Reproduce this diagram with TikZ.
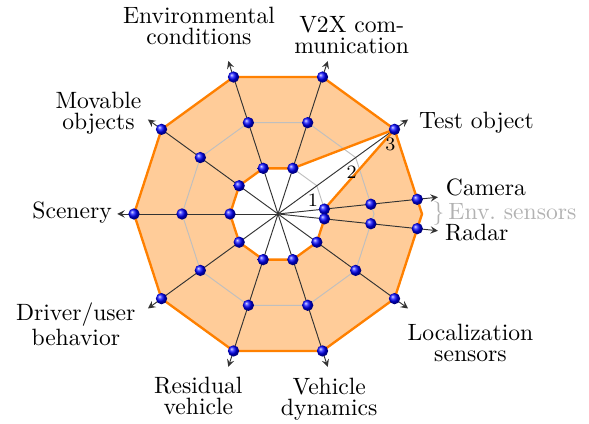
\documentclass[tikz,border=0pt]{standalone}
\usepackage{tikz}
\usetikzlibrary{positioning}

\begin{document}
\begin{tikzpicture}[x=0.715cm, y=0.715cm,
    dot/.style = {circle, inner sep=0pt, minimum size=4.8pt, ball color=blue},
    axis/.style = {black!80, thin, -stealth},
    ring/.style = {black!25, thin},
    area/.style = {orange, line width=1pt, line join=round},
    lbl/.style = {align=center, font=\linespread{0.75}\selectfont},
    tick/.style = {font=\footnotesize, xshift=-1.7pt}]
\useasboundingbox (-5.792,-4.375) rectangle (6.479,4.458);
% Define points
\coordinate (o) at (0,0);
\coordinate (cam1) at (6:0.972);
\coordinate (cam2) at (6:1.945);
\coordinate (cam3) at (6:2.917);
\coordinate (rad1) at (-6:0.972);
\coordinate (rad2) at (-6:1.945);
\coordinate (rad3) at (-6:2.917);
\coordinate (test1) at (36:1);
\coordinate (test2) at (36:2);
\coordinate (test3) at (36:3);
% Axis ends
\coordinate (tcam) at (6:3.35);
\coordinate (trad) at (-6:3.35);
\coordinate (ttest) at (36:3.35);
\coordinate (tv2x) at (72:3.35);
\coordinate (tenv) at (108:3.35);
\coordinate (tmov) at (144:3.35);
\coordinate (tscen) at (180:3.35);
\coordinate (tdrv) at (216:3.35);
\coordinate (tres) at (252:3.35);
\coordinate (tdyn) at (288:3.35);
\coordinate (tloc) at (324:3.35);
% Covered range
\fill[orange!40, even odd rule]
  (0:3) -- (36:3) -- (72:3) -- (108:3) -- (144:3) -- (180:3) -- (216:3) -- (252:3) -- (288:3) -- (324:3) -- cycle
  (test3) -- (cam1) -- (0:1) -- (rad1) -- (324:1) -- (288:1) -- (252:1) -- (216:1) -- (180:1) -- (144:1) -- (108:1) -- (72:1) -- cycle;
% Grid
\draw[ring] (0:1) -- (36:1) -- (72:1) -- (108:1) -- (144:1) -- (180:1) -- (216:1) -- (252:1) -- (288:1) -- (324:1) -- cycle;
\draw[ring] (0:2) -- (36:2) -- (72:2) -- (108:2) -- (144:2) -- (180:2) -- (216:2) -- (252:2) -- (288:2) -- (324:2) -- cycle;
\draw[ring] (0:3) -- (36:3) -- (72:3) -- (108:3) -- (144:3) -- (180:3) -- (216:3) -- (252:3) -- (288:3) -- (324:3) -- cycle;
% Axes
\draw[axis] (o) -- (tcam);
\draw[axis] (o) -- (trad);
\draw[axis] (o) -- (ttest);
\draw[axis] (o) -- (tv2x);
\draw[axis] (o) -- (tenv);
\draw[axis] (o) -- (tmov);
\draw[axis] (o) -- (tscen);
\draw[axis] (o) -- (tdrv);
\draw[axis] (o) -- (tres);
\draw[axis] (o) -- (tdyn);
\draw[axis] (o) -- (tloc);
% Outline
\draw[area] (0:3) -- (36:3) -- (72:3) -- (108:3) -- (144:3) -- (180:3) -- (216:3) -- (252:3) -- (288:3) -- (324:3) -- cycle;
\draw[area] (test3) -- (cam1) -- (0:1) -- (rad1) -- (324:1) -- (288:1) -- (252:1) -- (216:1) -- (180:1) -- (144:1) -- (108:1) -- (72:1) -- cycle;
% Balls
\node[dot] (c1) at (cam1) {};
\node[dot] (c2) at (cam2) {};
\node[dot] (c3) at (cam3) {};
\node[dot] (r1) at (rad1) {};
\node[dot] (r2) at (rad2) {};
\node[dot] (r3) at (rad3) {};
\node[dot] (t3) at (test3) {};
\node[dot] (v1) at (72:1) {};
\node[dot] (v2) at (72:2) {};
\node[dot] (v3) at (72:3) {};
\node[dot] (e1) at (108:1) {};
\node[dot] (e2) at (108:2) {};
\node[dot] (e3) at (108:3) {};
\node[dot] (m1) at (144:1) {};
\node[dot] (m2) at (144:2) {};
\node[dot] (m3) at (144:3) {};
\node[dot] (s1) at (180:1) {};
\node[dot] (s2) at (180:2) {};
\node[dot] (s3) at (180:3) {};
\node[dot] (d1) at (216:1) {};
\node[dot] (d2) at (216:2) {};
\node[dot] (d3) at (216:3) {};
\node[dot] (h1) at (252:1) {};
\node[dot] (h2) at (252:2) {};
\node[dot] (h3) at (252:3) {};
\node[dot] (y1) at (288:1) {};
\node[dot] (y2) at (288:2) {};
\node[dot] (y3) at (288:3) {};
\node[dot] (l1) at (324:1) {};
\node[dot] (l2) at (324:2) {};
\node[dot] (l3) at (324:3) {};
% Scale
\node[tick] (n1) [below=0pt of test1] {1};
\node[tick] (n2) [below=0pt of test2] {2};
\node[tick] (n3) [below=0pt of test3] {3};
% Labels
\node[lbl] (env) at (-1.646,3.925) {Environmental\\conditions};
\node[lbl] (v2x) at (1.535,3.729) {V2X com-\\munication};
\node[lbl] (mov) at (-3.740,2.10) {Movable\\objects};
\node[lbl] (scen) at (-4.29,0.03) {Scenery};
\node[lbl] (drv) at (-4.213,-2.30) {Driver/user\\behavior};
\node[lbl] (res) at (-1.660,-3.792) {Residual\\vehicle};
\node[lbl] (dyn) at (1.067,-3.854) {Vehicle\\dynamics};
\node[lbl] (loc) at (4.010,-2.679) {Localization\\sensors};
\node[lbl] (test) at (4.135,1.90) {Test object};
\node[lbl] (cam) at (4.333,0.5625) {Camera};
\node[lbl] (rad) at (4.139,-0.396) {Radar};
\node[lbl, black!30] (sens) at (4.72,0.01) {\}\,Env.\ sensors};
\end{tikzpicture}
\end{document}
